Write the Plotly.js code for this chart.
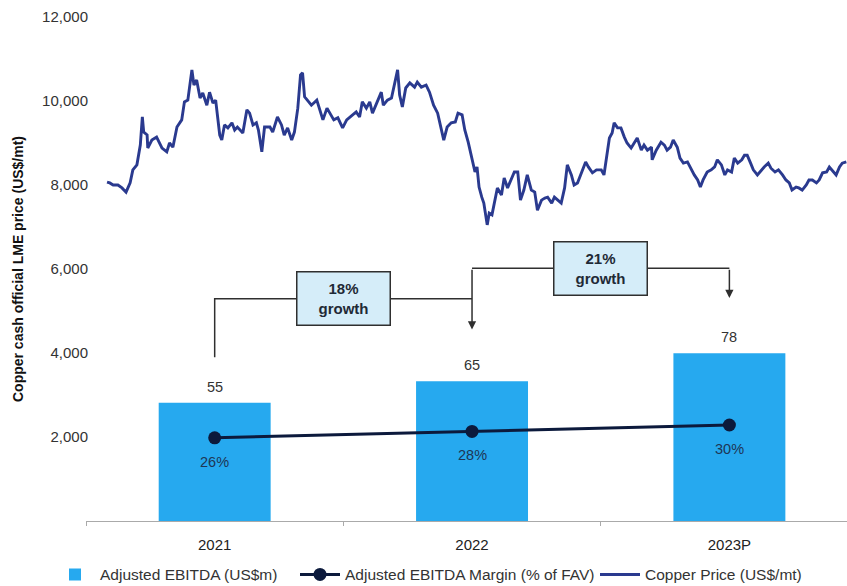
<!DOCTYPE html>
<html><head><meta charset="utf-8">
<script src="https://cdn.plot.ly/plotly-3.0.1.min.js"></script>
<style>html,body{margin:0;padding:0;background:#fff}#chart{width:847px;height:586px}</style>
</head><body><div id="chart"></div>
<script>
const years = ['2021', '2022', '2023P'];
const ebitda = [55, 65, 78];
const marginPct = [26, 28, 30];
const growthLabels = ['18%', '21%'];
const yTicks = [2000, 4000, 6000, 8000, 10000, 12000];

const copperDates = [
'2021-01-04','2021-01-08','2021-01-13','2021-01-20','2021-01-26','2021-02-01','2021-02-07','2021-02-11','2021-02-17','2021-02-22',
'2021-02-25','2021-02-27','2021-03-04','2021-03-05','2021-03-11','2021-03-18','2021-03-26','2021-04-02','2021-04-06','2021-04-11',
'2021-04-17','2021-04-24','2021-04-28','2021-05-03','2021-05-09','2021-05-12','2021-05-16','2021-05-21','2021-05-25','2021-05-31',
'2021-06-04','2021-06-09','2021-06-13','2021-06-19','2021-06-22','2021-06-26','2021-07-01','2021-07-07','2021-07-11','2021-07-15',
'2021-07-23','2021-07-29','2021-08-02','2021-08-07','2021-08-12','2021-08-15','2021-08-20','2021-08-24','2021-09-01','2021-09-05',
'2021-09-12','2021-09-18','2021-09-22','2021-09-27','2021-10-03','2021-10-07','2021-10-12','2021-10-16','2021-10-19','2021-10-22',
'2021-10-26','2021-11-01','2021-11-09','2021-11-13','2021-11-18','2021-11-24','2021-11-28','2021-12-04','2021-12-10','2021-12-17',
'2021-12-23','2021-12-31','2022-01-06','2022-01-11','2022-01-15','2022-01-21','2022-01-26','2022-01-30','2022-02-06','2022-02-12',
'2022-02-15','2022-02-21','2022-02-27','2022-03-03','2022-03-08','2022-03-11','2022-03-15','2022-03-20','2022-03-26','2022-04-02',
'2022-04-06','2022-04-12','2022-04-19','2022-04-24','2022-04-30','2022-05-06','2022-05-12','2022-05-15','2022-05-20','2022-05-26',
'2022-06-01','2022-06-05','2022-06-11','2022-06-15','2022-06-20','2022-06-26','2022-06-30','2022-07-03','2022-07-06','2022-07-10',
'2022-07-13','2022-07-18','2022-07-21','2022-07-25','2022-07-29','2022-08-02','2022-08-08','2022-08-12','2022-08-17','2022-08-23',
'2022-08-27','2022-09-01','2022-09-05','2022-09-10','2022-09-15','2022-09-21','2022-09-26','2022-09-30','2022-10-06','2022-10-11',
'2022-10-15','2022-10-21','2022-10-25','2022-10-30','2022-11-04','2022-11-09','2022-11-13','2022-11-19','2022-11-23','2022-11-28',
'2022-12-04','2022-12-10','2022-12-14','2022-12-20','2022-12-26','2023-01-02','2023-01-06','2023-01-09','2023-01-14','2023-01-18',
'2023-01-21','2023-01-26','2023-01-31','2023-02-05','2023-02-09','2023-02-15','2023-02-19','2023-02-24','2023-03-02','2023-03-06',
'2023-03-11','2023-03-17','2023-03-18','2023-03-24','2023-03-31','2023-04-05','2023-04-09','2023-04-14','2023-04-18','2023-04-24',
'2023-04-28','2023-05-03','2023-05-09','2023-05-15','2023-05-19','2023-05-24','2023-05-28','2023-06-01','2023-06-07','2023-06-13',
'2023-06-18','2023-06-22','2023-06-28','2023-07-03','2023-07-07','2023-07-13','2023-07-17','2023-07-22','2023-07-28','2023-08-01',
'2023-08-05','2023-08-10','2023-08-14','2023-08-20','2023-08-26','2023-08-30','2023-09-05','2023-09-09','2023-09-15','2023-09-20',
'2023-09-26','2023-10-01','2023-10-06','2023-10-10','2023-10-16','2023-10-20','2023-10-25','2023-10-31','2023-11-04','2023-11-09',
'2023-11-15','2023-11-19','2023-11-24','2023-11-30','2023-12-04','2023-12-08','2023-12-14','2023-12-19','2023-12-23','2023-12-29'
];
const copperPrice = [
8070,8050,8000,8000,7930,7830,8050,8360,8480,8950,
9620,9260,9190,8880,9070,9140,8880,8790,9000,8900,
9380,9550,9980,10020,10740,10380,10500,10070,10190,9900,
10210,9950,10020,9190,9070,9430,9360,9480,9310,9380,
9240,9790,9710,9430,9480,9310,8790,9380,9380,9260,
9620,9430,9190,9360,9070,9260,9830,10620,10670,10100,
10020,9900,10020,9790,9550,9830,9710,9550,9600,9360,
9550,9670,9740,9620,9980,9830,9980,9710,9980,10210,
9900,10020,10070,10380,10740,10140,9860,10310,10430,10330,
10450,10330,10380,10210,9900,9710,9240,9070,9380,9480,
9500,9710,9670,9310,9020,8550,8310,8430,7950,7710,
7570,7050,7330,7290,7600,7930,7760,8170,7930,8170,
8310,8310,7640,7880,8240,7880,7830,7400,7640,7690,
7710,7570,7710,7640,7570,7930,8480,8240,8000,8050,
8310,8550,8430,8290,8360,8360,8240,8600,9120,9240,
9480,9360,9360,9140,9000,8880,9000,9120,8830,8950,
8830,8900,8600,8830,9020,8950,8830,8900,9070,8900,
8640,8520,8550,8360,8240,8120,7950,8120,8310,8360,
8430,8600,8480,8240,8360,8310,8640,8520,8600,8710,
8710,8520,8360,8240,8360,8430,8520,8400,8310,8360,
8240,8120,8050,7880,7950,7930,7880,8000,8120,8120,
8050,8120,8290,8310,8430,8360,8240,8430,8520,8550
];

const FONT = 'Liberation Sans, Arial, sans-serif';
const barColor = '#26A9EF';
const navy = '#0c1a3c';
const copperColor = '#2a3a8f';

const traces = [
  // empty trace so that the main x/y subplot exists for the overlays
  {type: 'scatter', mode: 'markers', x: [], y: [], xaxis: 'x', yaxis: 'y', showlegend: false, hoverinfo: 'skip'},
  {
    type: 'bar', name: 'Adjusted EBITDA (US$m)', x: years, y: ebitda,
    xaxis: 'x', yaxis: 'y2', width: 0.435, legend: 'legend',
    marker: {color: barColor}, hoverinfo: 'skip'
  },
  {
    type: 'scatter', mode: 'lines+markers', name: 'Adjusted EBITDA Margin (% of FAV)',
    x: years, y: marginPct, xaxis: 'x', yaxis: 'y3', legend: 'legend2',
    line: {color: navy, width: 3}, marker: {color: navy, size: 13}
  },
  {
    type: 'scatter', mode: 'lines', name: 'Copper Price (US$/mt)',
    x: copperDates, y: copperPrice, xaxis: 'x2', yaxis: 'y', legend: 'legend3',
    line: {color: copperColor, width: 2.9}
  }
];

const annotations = [];
years.forEach((yr, i) => {
  annotations.push({x: i, y: ebitda[i], xref: 'x', yref: 'y2', text: String(ebitda[i]),
    showarrow: false, yshift: 16, font: {family: FONT, size: 14.5, color: '#333'}});
  annotations.push({x: i, y: marginPct[i], xref: 'x', yref: 'y3', text: marginPct[i] + '%',
    showarrow: false, yshift: -24, font: {family: FONT, size: 14.5, color: '#1e3655'}});
});
const boxY = [5290, 6020];
growthLabels.forEach((g, i) => {
  annotations.push({x: i + 0.5, y: boxY[i], xref: 'x', yref: 'y', text: '<b>' + g + '<br>growth</b>',
    showarrow: false, bgcolor: '#d5edf9', bordercolor: '#2f2f2f', borderwidth: 1.5, borderpad: 2,
    width: 88, height: 48, font: {family: FONT, size: 15, color: '#1f2a36'}});
});
annotations.push({x: 1, y: 4560, xref: 'x', yref: 'y', ax: 1, ay: 6020, axref: 'x', ayref: 'y',
  showarrow: true, text: '', arrowhead: 2, arrowsize: 1.1, arrowwidth: 1.5, arrowcolor: '#2f2f2f', standoff: 0});
annotations.push({x: 2, y: 5310, xref: 'x', yref: 'y', ax: 2, ay: 6020, axref: 'x', ayref: 'y',
  showarrow: true, text: '', arrowhead: 2, arrowsize: 1.1, arrowwidth: 1.5, arrowcolor: '#2f2f2f', standoff: 0});

const shapes = [
  {type: 'path', xref: 'x', yref: 'y', path: 'M 0 3900 L 0 5290 L 1 5290', line: {color: '#2f2f2f', width: 1.5}},
  {type: 'line', xref: 'x', yref: 'y', x0: 1, x1: 2, y0: 6020, y1: 6020, line: {color: '#2f2f2f', width: 1.5}}
];

const legendBase = {orientation: 'h', xanchor: 'left', xref: 'container', yref: 'container',
  y: 0.019, yanchor: 'middle',
  font: {family: FONT, size: 15.5, color: '#333'}, itemwidth: 40, bgcolor: 'rgba(0,0,0,0)'};

const layout = {
  width: 847, height: 586,
  margin: {l: 86, r: 0, t: 17, b: 65, autoexpand: false},
  paper_bgcolor: '#fff', plot_bgcolor: '#fff',
  font: {family: FONT, color: '#333'},
  showlegend: true,
  legend: Object.assign({}, legendBase, {x: 50 / 847}),
  legend2: Object.assign({}, legendBase, {x: 295 / 847}),
  legend3: Object.assign({}, legendBase, {x: 595 / 847}),
  xaxis: {type: 'category', range: [-0.5, 2.457], showgrid: false, showline: true, linecolor: '#aaa',
    linewidth: 1, ticks: 'outside', ticklen: 4, tickcolor: '#aaa', tickson: 'boundaries',
    ticklabelstandoff: 10, automargin: false,
    tickfont: {family: FONT, size: 15, color: '#222'}, zeroline: false, fixedrange: true},
  xaxis2: {type: 'date', overlaying: 'x', range: ['2020-12-04', '2023-12-30'], visible: false, showgrid: false},
  yaxis: {range: [0, 12000], tickvals: yTicks, tickformat: ',', showgrid: false, zeroline: false, showline: false,
    tickfont: {family: FONT, size: 15, color: '#333'}, ticks: '', ticklabelstandoff: -3, automargin: false,
    title: {text: 'Copper cash official LME price (US$/mt)', font: {family: FONT, size: 14, color: '#111', weight: 'bold'}, standoff: 15}},
  yaxis2: {range: [0, 234.5], overlaying: 'y', visible: false, showgrid: false},
  yaxis3: {range: [0, 157.5], overlaying: 'y', visible: false, showgrid: false},
  annotations: annotations,
  shapes: shapes
};

Plotly.newPlot('chart', traces, layout, {displayModeBar: false, staticPlot: true});
</script>
</body></html>
